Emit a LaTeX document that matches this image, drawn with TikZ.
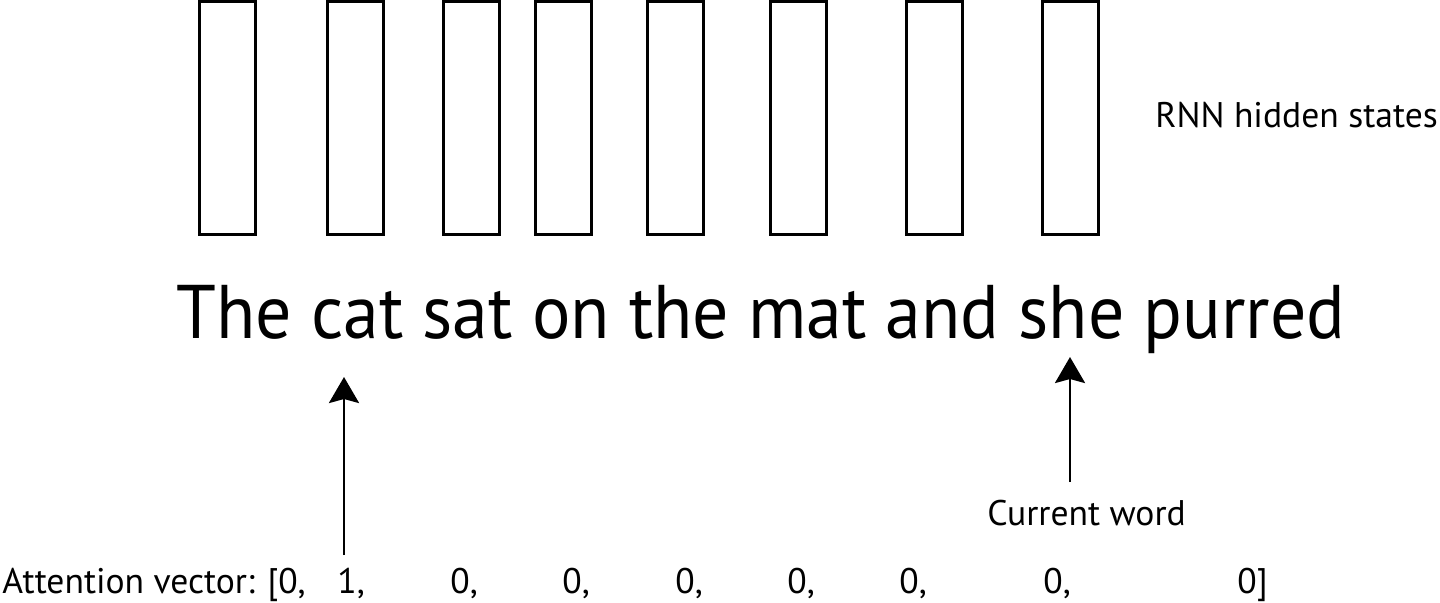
\documentclass[tikz,border=0pt]{standalone}
\usepackage{fontspec}
\setmainfont{PT Sans}
\newfontfamily\bigfont[FakeStretch=0.945]{PT Sans}
\usetikzlibrary{arrows.meta}
\tikzset{
  hidbox/.style={draw=black, line width=1.5pt},
  bigtxt/.style={inner sep=0pt, anchor=base west, font=\bigfont\fontsize{38}{44}\selectfont},
  smalltxt/.style={inner sep=0pt, anchor=base west, font=\fontsize{17.8}{21}\selectfont},
  attarrow/.style={line width=1.4pt, -{Stealth[length=13pt, width=15pt, inset=2pt]}}
}
\begin{document}
\begin{tikzpicture}[x=0.5pt, y=-0.5pt]
\useasboundingbox (0,0) rectangle (1440,602);
% hidden state boxes
\foreach \i/\xl in {1/199.5, 2/327.5, 3/443, 4/535.5, 5/647.5, 6/770, 7/906.5, 8/1042} {
  \draw[hidbox] (\xl,1.5) rectangle ++(56,233);
}
\node[smalltxt] (rnn) at (1155,127) {RNN hidden states};
\node[bigtxt] (sent) at (176,338) {The cat sat on the mat and she purred};
% arrows
\coordinate (a1s) at (344,555);
\coordinate (a1e) at (344,377);
\coordinate (a2s) at (1070,482);
\coordinate (a2e) at (1070,357);
\draw[attarrow] (a1s) -- (a1e);
\draw[attarrow] (a2s) -- (a2e);
\node[smalltxt] (cur) at (987,525) {Current word};
% attention vector
\node[smalltxt] (att) at (2,593) {Attention vector: [0,};
\node[smalltxt] (v1) at (337,593) {1,};
\node[smalltxt] (v2) at (450,593) {0,};
\node[smalltxt] (v3) at (562,593) {0,};
\node[smalltxt] (v4) at (675,593) {0,};
\node[smalltxt] (v5) at (787,593) {0,};
\node[smalltxt] (v6) at (899,593) {0,};
\node[smalltxt] (v7) at (1043,593) {0,};
\node[smalltxt] (v8) at (1237,593) {0]};
\end{tikzpicture}
\end{document}
